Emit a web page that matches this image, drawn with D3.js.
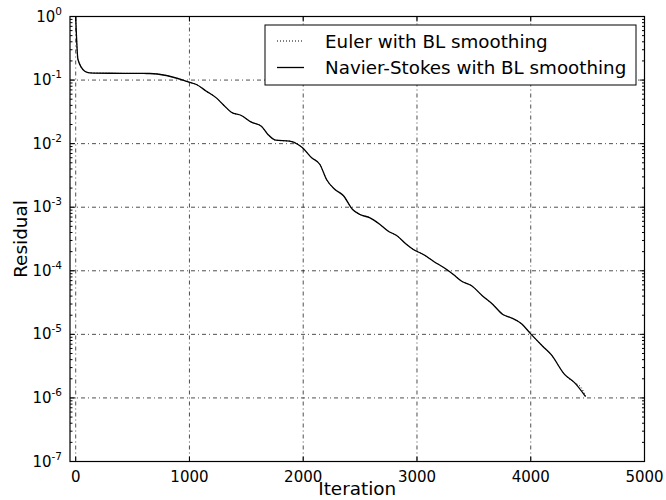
<!DOCTYPE html>
<html><head><meta charset="utf-8">
<script src="https://cdn.jsdelivr.net/npm/d3@7"></script>
<style>body{margin:0;background:#fff}svg{display:block}text{font-family:"DejaVu Sans",sans-serif;fill:#000}</style>
</head><body><svg id="c" width="666" height="500"></svg>
<script>
const iterNS = [0,20,80,123,300,500,650,797,996,1061,1149,1236,1295,1368,1456,1544,1632,1690,1758,1881,1954,1994,2074,2147,2205,2279,2352,2434,2499,2587,2675,2748,2821,2909,2968,3056,3144,3261,3320,3393,3477,3579,3667,3755,3828,3916,4004,4107,4180,4297,4385,4482];
const logResNS = [0,-0.676,-0.86,-0.886,-0.893,-0.895,-0.897,-0.928,-1.033,-1.07,-1.175,-1.28,-1.384,-1.505,-1.557,-1.662,-1.725,-1.856,-1.946,-1.961,-2.013,-2.066,-2.223,-2.328,-2.564,-2.721,-2.816,-3.036,-3.115,-3.167,-3.272,-3.377,-3.445,-3.587,-3.665,-3.744,-3.849,-3.98,-4.059,-4.164,-4.232,-4.4,-4.53,-4.688,-4.74,-4.83,-5.0,-5.19,-5.32,-5.63,-5.76,-5.98];
const iterEuler = [0,20,80,123,300,500,650,797,996,1061,1149,1236,1295,1368,1456,1544,1632,1690,1758,1881,1954,1994,2074,2147,2205,2279,2352,2434,2499,2587,2675,2748,2821,2909,2968,3056,3144,3261,3320,3393,3477,3579,3667,3755,3828,3916,4004,4107,4180,4297,4385,4440,4482];
const logResEuler = [0,-0.676,-0.86,-0.886,-0.893,-0.895,-0.897,-0.928,-1.033,-1.07,-1.175,-1.28,-1.384,-1.505,-1.557,-1.662,-1.725,-1.856,-1.946,-1.961,-2.013,-2.066,-2.223,-2.328,-2.564,-2.721,-2.816,-3.036,-3.115,-3.167,-3.272,-3.377,-3.445,-3.587,-3.665,-3.744,-3.849,-3.98,-4.059,-4.164,-4.232,-4.4,-4.53,-4.688,-4.74,-4.83,-5.0,-5.19,-5.32,-5.63,-5.76,-5.83,-5.97];
const xTicks = [0,1000,2000,3000,4000,5000];
const yExps = [0,-1,-2,-3,-4,-5,-6,-7];
const legendLabels = ["Euler with BL smoothing","Navier-Stokes with BL smoothing"];

const svg = d3.select("#c");
const L=70, R=644.5, T=16.5, B=461.5;
const x = d3.scaleLinear().domain([-50,5000]).range([L,R]);
const y = d3.scaleLog().domain([1e-7,1]).range([B,T]);

const g = svg.append("g");
const dash = "4,3,1,3";
g.selectAll(".gx").data(xTicks.filter(v=>v>-50&&v<5000)).enter().append("line")
 .attr("x1",d=>x(d)).attr("x2",d=>x(d)).attr("y1",T).attr("y2",B)
 .attr("stroke","#000").attr("stroke-width",0.7).attr("stroke-dasharray",dash);
g.selectAll(".gy").data(yExps.filter(e=>e<0&&e>-7)).enter().append("line")
 .attr("y1",d=>y(Math.pow(10,d))).attr("y2",d=>y(Math.pow(10,d))).attr("x1",L).attr("x2",R)
 .attr("stroke","#000").attr("stroke-width",0.7).attr("stroke-dasharray",dash);

const line = d3.line().x(d=>x(d[0])).y(d=>y(Math.pow(10,d[1]))).curve(d3.curveMonotoneX);
svg.append("clipPath").attr("id","cp").append("rect").attr("x",L).attr("y",T).attr("width",R-L).attr("height",B-T);
g.append("path").datum(iterEuler.map((v,i)=>[v,logResEuler[i]])).attr("d",line)
 .attr("fill","none").attr("stroke","#000").attr("stroke-width",1).attr("stroke-dasharray","1,2").attr("clip-path","url(#cp)");
g.append("path").datum(iterNS.map((v,i)=>[v,logResNS[i]])).attr("d",line)
 .attr("fill","none").attr("stroke","#000").attr("stroke-width",1.3).attr("clip-path","url(#cp)");

const minor=[];
for(let e=-7;e<0;e++) for(let m=2;m<10;m++) minor.push(m*Math.pow(10,e));
yExps.forEach(e=>{
  const yy=y(Math.pow(10,e));
  g.append("line").attr("x1",L).attr("x2",L+5).attr("y1",yy).attr("y2",yy).attr("stroke","#000");
  g.append("line").attr("x1",R).attr("x2",R-5).attr("y1",yy).attr("y2",yy).attr("stroke","#000");
  const t=g.append("text").attr("x",L-8).attr("y",yy+5).attr("text-anchor","end").style("font-size","15px");
  t.append("tspan").text("10");
  t.append("tspan").attr("dy",-7).style("font-size","10.5px").text(String(e));
});
minor.forEach(v=>{
  const yy=y(v);
  g.append("line").attr("x1",L).attr("x2",L+2.5).attr("y1",yy).attr("y2",yy).attr("stroke","#000");
  g.append("line").attr("x1",R).attr("x2",R-2.5).attr("y1",yy).attr("y2",yy).attr("stroke","#000");
});
xTicks.forEach(v=>{
  const xx=x(v);
  g.append("line").attr("x1",xx).attr("x2",xx).attr("y1",B).attr("y2",B-5).attr("stroke","#000");
  g.append("line").attr("x1",xx).attr("x2",xx).attr("y1",T).attr("y2",T+5).attr("stroke","#000");
  g.append("text").attr("x",xx).attr("y",B+20).attr("text-anchor","middle").style("font-size","15px").text(v);
});
g.append("rect").attr("x",L).attr("y",T).attr("width",R-L).attr("height",B-T).attr("fill","none").attr("stroke","#000").attr("stroke-width",1.2);

svg.append("text").attr("x",(L+R)/2).attr("y",495).attr("text-anchor","middle").style("font-size","18.4px").text("Iteration");
svg.append("text").attr("transform",`translate(27,${(T+B)/2}) rotate(-90)`).attr("text-anchor","middle").style("font-size","18.4px").text("Residual");

const lg = svg.append("g");
lg.append("rect").attr("x",265).attr("y",25).attr("width",371).attr("height",60).attr("fill","#fff").attr("stroke","#000").attr("stroke-width",1);
legendLabels.forEach((lab,i)=>{
  const yy=41+i*26.5;
  lg.append("line").attr("x1",277).attr("x2",304).attr("y1",yy).attr("y2",yy).attr("stroke","#000")
    .attr("stroke-width",i?1.3:1).attr("stroke-dasharray",i?null:"1,2");
  lg.append("text").attr("x",325).attr("y",yy+6.5).style("font-size","18.3px").text(lab);
});
</script></body></html>
